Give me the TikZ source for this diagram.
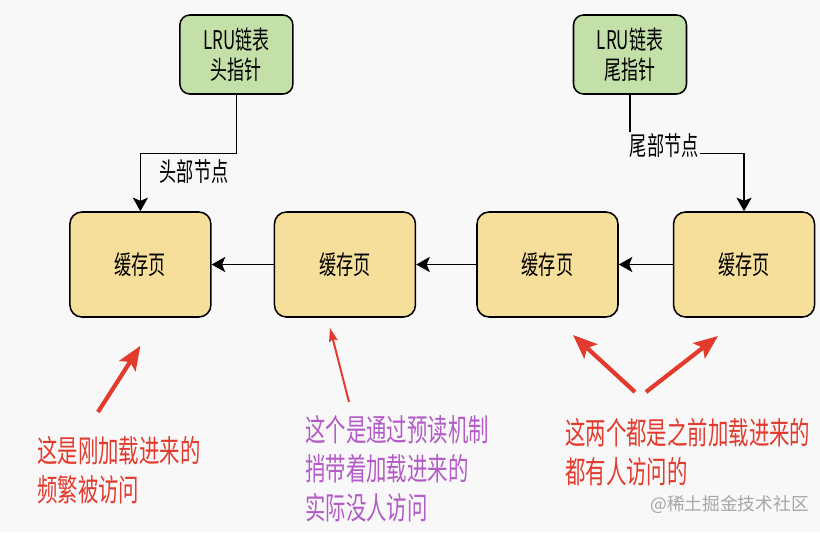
\documentclass[tikz,border=0pt]{standalone}
\usepackage{fontspec}
\setmainfont{Noto Sans CJK SC}[FakeStretch=0.66]
\newfontfamily\markfont{Noto Sans CJK SC}
\usetikzlibrary{arrows.meta,positioning,calc}
\definecolor{bgcol}{HTML}{F8F8F8}
\definecolor{pagefill}{HTML}{F5DF9A}
\definecolor{ptrfill}{HTML}{C4E0A9}
\definecolor{notered}{HTML}{E23B2E}
\definecolor{notepurple}{HTML}{B35BC7}
\tikzset{
page/.style = {draw, fill=pagefill, rectangle, rounded corners=0.3cm, line width=1.1pt, minimum width=3.525cm, minimum height=2.625cm, align=center, font=\fontsize{18.5pt}{22pt}\selectfont},
pointer/.style = {draw, fill=ptrfill, rectangle, rounded corners=0.25cm, line width=1.1pt, minimum width=2.825cm, minimum height=1.975cm, align=center, font=\fontsize{18.3pt}{21.3pt}\selectfont},
link/.style = {draw, line width=0.9pt},
tag/.style = {fill=bgcol, inner sep=1pt, font=\fontsize{18.5pt}{21pt}\selectfont},
note/.style = {anchor=west, align=left, inner sep=0pt, font=\fontsize{22pt}{27.7pt}\selectfont},
hint/.style = {draw=notered, line width=3pt, -{Stealth[length=0.6cm,width=0.48cm,inset=0.12cm]}},
thinhint/.style = {hint, line width=1.4pt, -{Stealth[length=0.34cm,width=0.22cm,inset=0.05cm]}}
}

\begin{document}
\begin{tikzpicture}[auto, node distance=1.5cm, >={Stealth[length=0.34cm,width=0.38cm,inset=0.08cm]}]
    \fill[bgcol] (0,0) rectangle (20.5,-13.3);
    \useasboundingbox (0,0) rectangle (20.5,-13.3);

    \node[page] (page1) at (3.51,-6.6125) {缓存页};
    \node[page, right=1.55cm of page1] (page2) {缓存页};
    \node[page, right=1.5cm of page2] (page3) {缓存页};
    \node[page, right=1.35cm of page3] (page4) {缓存页};

    \node[pointer] (headptr) at (5.91,-1.3625) {LRU链表\\头指针};
    \node[pointer] (tailptr) at (15.75,-1.3625) {LRU链表\\尾指针};

    \draw[link,->] (page2) -- (page1);
    \draw[link,->] (page3) -- (page2);
    \draw[link,->] (page4) -- (page3);

    \draw[link,->] (headptr.south) -- ++(0,-1.475) -| (page1.north) node[tag, pos=0.22, yshift=-0.1cm] {头部节点};
    \draw[link,->] (tailptr.south) -- ++(0,-1.475) -| (page4.north) node[tag, pos=0.15, yshift=-0.15cm] {尾部节点};

    \node[note, text=notered] (note1) at (0.925,-11.76) {这是刚加载进来的\\频繁被访问};
    \node[note, text=notepurple] (note2) at (7.625,-11.725) {这个是通过预读机制\\捎带着加载进来的\\实际没人访问};
    \node[note, text=notered] (note3) at (14.125,-11.31) {这两个都是之前加载进来的\\都有人访问的};
    \node[anchor=west, inner sep=0pt, text=gray!70, font=\markfont\fontsize{12.6pt}{15pt}\selectfont] (mark) at (16.25,-12.625) {@稀土掘金技术社区};

    % annotation arrows
    \coordinate (from1) at (2.45,-10.3);
    \coordinate (to1) at ([shift={(0,-0.7)}]page1.south);
    \coordinate (from2) at (8.725,-10.05);
    \coordinate (to2) at (8.25,-8.2);
    \coordinate (from3) at (15.875,-9.8);
    \coordinate (to3) at (14.325,-8.375);
    \coordinate (from4) at (16.15,-9.8);
    \coordinate (to4) at (17.95,-8.4);

    \draw[hint] (from1) -- (to1);
    \draw[thinhint] (from2) -- (to2);
    \draw[hint] (from3) -- (to3);
    \draw[hint] (from4) -- (to4);
\end{tikzpicture}
\end{document}
